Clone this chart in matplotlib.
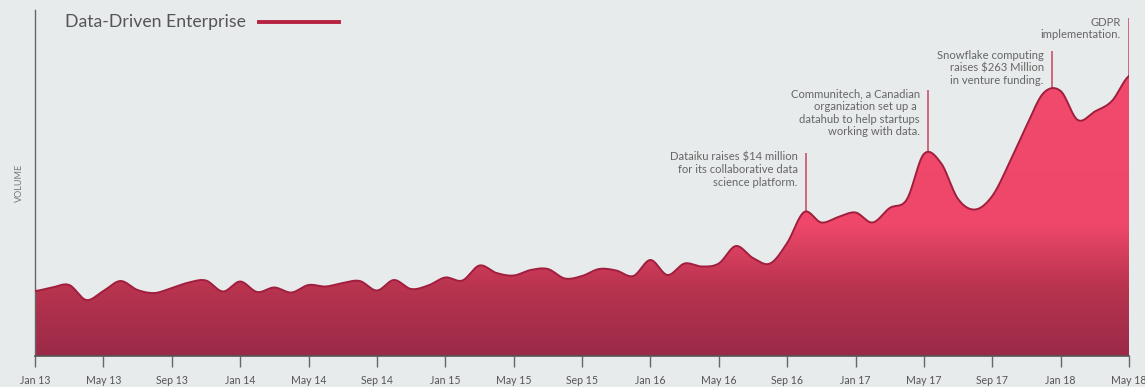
import numpy as np
import matplotlib
matplotlib.use("Agg")
import matplotlib.pyplot as plt
from matplotlib.colors import LinearSegmentedColormap
from matplotlib.patches import Polygon

# monthly search volume, Jan 2013 .. May 2018 (arbitrary units)
months = np.arange(65)
volume = [65, 68.5, 71, 56, 65, 75, 66, 63, 68, 73.5, 75.5, 64.5, 74.5,
          64, 68.5, 63.5, 71, 69.5, 73, 75, 65.5, 76, 67, 70.5, 78.5,
          75.5, 90.5, 83, 80.5, 86, 87, 77.5, 80, 87, 85.5, 80, 96,
          81, 92.5, 89.5, 92.5, 110, 98, 92.5, 113, 144, 133.5, 139, 143.5,
          133.5, 148, 156.5, 202, 193, 157, 146.5, 160, 193, 230, 263, 265,
          236, 244.5, 255, 280]
tick_months = list(range(0, 65, 4))
tick_labels = ["Jan 13", "May 13", "Sep 13", "Jan 14", "May 14", "Sep 14",
               "Jan 15", "May 15", "Sep 15", "Jan 16", "May 16", "Sep 16",
               "Jan 17", "May 17", "Sep 17", "Jan 18", "May 18"]

# events: (month position, top of marker line, text)
events = [
    (45.1, 203, "Dataiku raises $14 million\nfor its collaborative data\nscience platform."),
    (52.25, 266, "Communitech, a Canadian\norganization set up a \ndatahub to help startups\nworking with data."),
    (59.5, 305, "Snowflake computing\nraises $263 Million\nin venture funding."),
    (64, 338, "GDPR\nimplementation."),
]

BG = "#e8ebec"
TXT = "#666666"


def catmull_rom(x, y, n=24):
    x = np.asarray(x, float)
    y = np.asarray(y, float)
    yp = np.concatenate([[y[0]], y, [y[-1]]])
    xs, ys = [], []
    t = np.linspace(0, 1, n, endpoint=False)
    for i in range(len(x) - 1):
        p0, p1, p2, p3 = yp[i], yp[i + 1], yp[i + 2], yp[i + 3]
        m1 = (p2 - p0) / 2
        m2 = (p3 - p1) / 2
        h00 = 2 * t**3 - 3 * t**2 + 1
        h10 = t**3 - 2 * t**2 + t
        h01 = -2 * t**3 + 3 * t**2
        h11 = t**3 - t**2
        ys.append(h00 * p1 + h10 * m1 + h01 * p2 + h11 * m2)
        xs.append(x[i] + t * (x[i + 1] - x[i]))
    xs.append([x[-1]])
    ys.append([y[-1]])
    return np.concatenate(xs), np.concatenate(ys)


plt.rcParams['font.family'] = ['Lato', 'DejaVu Sans']

fig = plt.figure(figsize=(11.45, 3.87), dpi=100, facecolor=BG)
ax = fig.add_axes([35 / 1145, 31 / 387, 1094 / 1145, 346 / 387])
ax.set_facecolor(BG)

xs, ys = catmull_rom(months, volume)
ymax = 346
ax.set_xlim(0, 64)
ax.set_ylim(0, ymax)

# gradient fill clipped to the area under the curve
cmap = LinearSegmentedColormap.from_list(
    "area", [(0, "#9a2a48"), (0.2, "#b9344f"), (0.38, "#ef476a"), (1, "#f34b6d")])
grad = np.linspace(0, 1, 256).reshape(-1, 1)
im = ax.imshow(grad, extent=[0, 64, 0, ymax], origin="lower", aspect="auto",
               cmap=cmap, zorder=1)
verts = np.column_stack([np.r_[xs, xs[-1], xs[0]], np.r_[ys, 0, 0]])
poly = Polygon(verts, closed=True, facecolor="none", edgecolor="none")
ax.add_patch(poly)
im.set_clip_path(poly)
ax.plot(xs, ys, color="#a11f3e", lw=1.4, zorder=3)

# event markers
for m, top, label in events:
    base = np.interp(m, xs, ys)
    ax.plot([m, m], [base, top], color="#d0677f", lw=1.4, zorder=2,
            solid_capstyle="butt")
    ax.annotate(label, xy=(m, top), xytext=(-6, 1), textcoords="offset points",
                ha="right", va="top", fontsize=8.1, color=TXT,
                linespacing=1.18, multialignment="right")

ax.set_xticks(tick_months)
ax.set_xticklabels(tick_labels)
ax.set_yticks([])
ax.tick_params(axis="x", length=8, width=1, color="#666666", labelsize=7.6,
               labelcolor="#555555", pad=6)
for s in ["top", "right"]:
    ax.spines[s].set_visible(False)
ax.spines["left"].set_color("#666666")
ax.spines["left"].set_linewidth(1)
ax.spines["bottom"].set_color("#555555")
ax.spines["bottom"].set_linewidth(1.2)
ax.set_ylabel("VOLUME", fontsize=6.5, color="#777777", labelpad=8)

# legend
fig.text(65 / 1145, 1 - 22 / 387, "Data-Driven Enterprise", fontsize=12.7,
         color="#555555", va="center", ha="left")
fig.add_artist(plt.Line2D([259 / 1145, 339 / 1145], [1 - 22 / 387, 1 - 22 / 387],
                          color="#b52341", lw=2.8))

fig.savefig("out.png", dpi=100, facecolor=BG)
